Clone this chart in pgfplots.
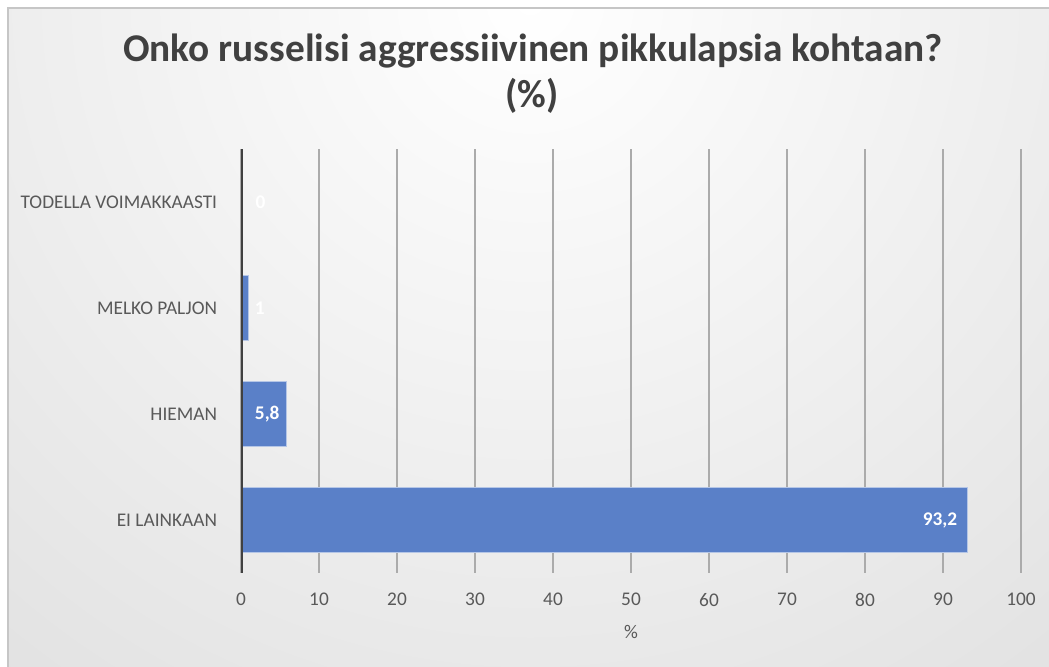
\documentclass[border=0pt]{standalone}
\usepackage{pgfplots}
\pgfplotsset{compat=1.18}
\usepackage{pgfplotstable}
\usepackage{fontspec}
\setmainfont{Carlito}
\definecolor{barc}{HTML}{5A80C8}
\definecolor{txt}{HTML}{595959}
\definecolor{ttl}{HTML}{404040}
\definecolor{grd}{HTML}{ABABAB}
\definecolor{axl}{HTML}{404040}

\pgfplotstableread{
y val xs
0 93.2 -21
1 5.8 -14.25
2 1 8.25
3 0 14.6
}\datatab

\begin{document}
\begin{tikzpicture}[x=0.75pt,y=0.75pt]
\useasboundingbox (0,0) rectangle (1049,667);
\fill[white] (0,0) rectangle (1049,667);
\begin{scope}
\clip (8,0) rectangle (1049,659);
\shade[inner color=white, outer color=gray!45] (530,667) circle (1700);
\end{scope}
\draw[gray!45, line width=0.9pt] (8,0) -- (8,659) -- (1049,659);

\node[font=\fontsize{29.5}{34}\selectfont\bfseries, text=ttl, anchor=base, inner sep=0pt] at (533,605) {Onko russelisi aggressiivinen pikkulapsia kohtaan?};
\node[font=\fontsize{29.5}{34}\selectfont\bfseries, text=ttl, anchor=base, inner sep=0pt] at (532,559) {(\%)};

\begin{axis}[
  at={(180.75pt,70.5pt)}, anchor=south west,
  scale only axis, width=585pt, height=318pt,
  xbar, bar width=48.75pt,
  xmin=0, xmax=100, ymin=-0.5, ymax=3.5,
  xtick={0,10,...,100},
  ytick={0,1,2,3},
  yticklabels={EI LAINKAAN, HIEMAN, MELKO PALJON, TODELLA VOIMAKKAASTI},
  axis line style={draw=none},
  tick style={draw=none},
  xmajorgrids, grid style={grd, line width=1.5pt},
  /pgf/number format/assume math mode=true,
  /pgf/number format/use comma,
  ticklabel style={font=\fontsize{14.5}{17}\selectfont, text=txt, inner sep=0pt},
  xticklabel style={anchor=north},
  xticklabel shift=15pt,
  yticklabel style={anchor=east},
  yticklabel shift=13.5pt,
  xlabel={\%},
  xlabel style={at={(axis description cs:0.5,0)}, anchor=center, yshift=-44.25pt, font=\fontsize{14.5}{17}\selectfont, text=txt},
  nodes near coords,
  point meta=x,
  visualization depends on={\thisrow{xs}\as\xs},
  every node near coord/.append style={font=\fontsize{14.5}{17}\selectfont\bfseries, text=white, inner sep=0pt, anchor=center, xshift=\xs pt},
]
\addplot[fill=barc, draw=white!55!barc, line width=0.75pt] table[x=val, y=y] {\datatab};
\draw[axl, line width=2.25pt] (axis cs:0,-0.5) -- (axis cs:0,3.5);
\end{axis}
\end{tikzpicture}
\end{document}
